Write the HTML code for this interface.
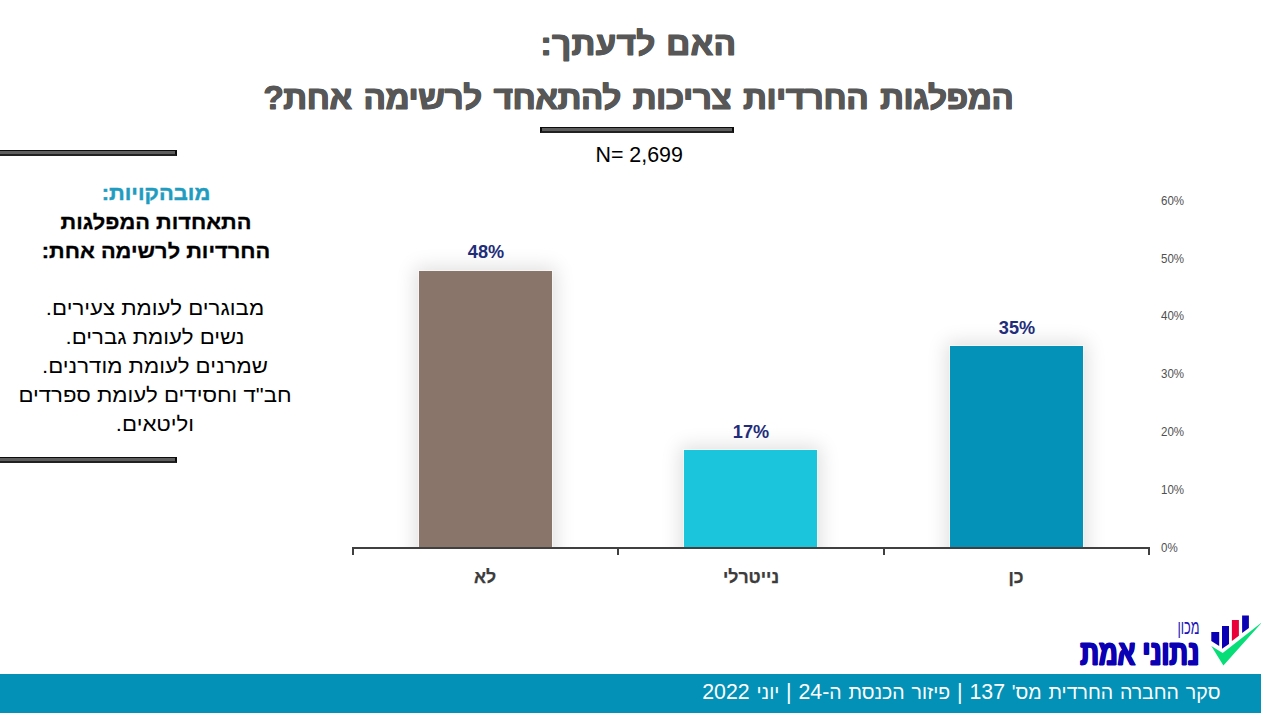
<!DOCTYPE html>
<html lang="he">
<head>
<meta charset="utf-8">
<title>האם לדעתך: המפלגות החרדיות צריכות להתאחד לרשימה אחת?</title>
<style>
  html, body { margin: 0; padding: 0; }
  body {
    width: 1261px; height: 713px; position: relative; overflow: hidden;
    background: #ffffff;
    font-family: "Liberation Sans", "DejaVu Sans", sans-serif;
    color: #404040;
  }
  .abs { position: absolute; white-space: nowrap; }
  .c { transform: translateX(-50%); text-align: center; }

  /* title */
  .t1, .t2 {
    font-weight: bold; color: #575757; font-size: 33px; line-height: 40px;
    direction: rtl; -webkit-text-stroke: 0.9px #575757; letter-spacing: -0.5px; text-shadow: 0.6px 0 0 #575757, -0.6px 0 0 #575757;
  }
  .t1 { left: 638.5px; top: 24px; letter-spacing: 0.5px; word-spacing: 1px; }
  .t2 { left: 638.5px; top: 77.5px; letter-spacing: -0.3px; word-spacing: 3px; }
  .rule {
    position: absolute; background: #5e5e5e; border-style: solid; border-color: #0c0c0c #0c0c0c #222 #0c0c0c; border-width: 1px 2px 2px 2px; box-sizing: border-box;
  }
  .n { left: 639.2px; top: 142.8px; font-size: 21.4px; line-height: 24px; color: #000; }

  /* side box */
  .side { direction: rtl; }
  .s-h { color: #1f9cc0; font-weight: bold; font-size: 20.6px; line-height: 24px; transform: translateX(-50%) scaleX(1.065); -webkit-text-stroke: 0.4px #1f9cc0; }
  .s-b { color: #000; font-weight: bold; font-size: 20.6px; line-height: 24px; transform: translateX(-50%) scaleX(1.058); -webkit-text-stroke: 0.3px #000; }
  .s-t { color: #000; font-size: 20.6px; line-height: 24px; transform: translateX(-50%) scaleX(1.078); }

  /* chart */
  .bar { position: absolute; box-shadow: 0 0 18px 4px rgba(0,0,0,0.125); outline: 1px solid rgba(255,255,255,0.45); }
  .val { font-weight: bold; color: #1f2d7a; font-size: 19px; line-height: 20px; transform: translateX(-50%) scaleX(0.955); }
  .cat { font-weight: bold; color: #3c3c3c; font-size: 17.7px; line-height: 20px; direction: rtl; -webkit-text-stroke: 0.25px #3c3c3c; }
  .yl { font-size: 12.4px; line-height: 14px; color: #505050; left: 1160.5px; transform: scaleX(0.93); transform-origin: 0 50%; }
  .axis { position: absolute; background: #404040; }

  /* footer */
  .footer { position: absolute; left: 0; top: 674px; width: 1261px; height: 39px; background: #0391b7; }
  .ft { right: 40.5px; top: 679.5px; color: #fff; font-size: 19.5px; line-height: 24px; direction: rtl; word-spacing: 1.4px; }
  .ft .d { font-size: 21.3px; }
</style>
</head>
<body>

<div class="abs c t1">האם לדעתך:</div>
<div class="abs c t2">המפלגות החרדיות צריכות להתאחד לרשימה אחת?</div>
<div class="rule" style="left:540px; top:127px; width:194px; height:6px;"></div>
<div class="abs c n">N= 2,699</div>

<div class="rule" style="left:-2px; top:150px; width:179px; height:6px;"></div>
<div class="rule" style="left:-2px; top:457px; width:179px; height:6px;"></div>

<div class="abs c side s-h" style="left:155.5px; top:181px;">מובהקויות:</div>
<div class="abs c side s-b" style="left:156px; top:210px;">התאחדות המפלגות</div>
<div class="abs c side s-b" style="left:156px; top:238.5px;">החרדיות לרשימה אחת:</div>
<div class="abs c side s-t" style="left:155px; top:296px;">מבוגרים לעומת צעירים.</div>
<div class="abs c side s-t" style="left:155px; top:325px;">נשים לעומת גברים.</div>
<div class="abs c side s-t" style="left:155px; top:354px;">שמרנים לעומת מודרנים.</div>
<div class="abs c side s-t" style="left:155px; top:383px;">חב"ד וחסידים לעומת ספרדים</div>
<div class="abs c side s-t" style="left:155px; top:412px;">וליטאים.</div>

<!-- chart -->
<div style="position:absolute; left:340px; top:170px; width:830px; height:378px; overflow:hidden;">
  <div class="bar" style="left:79px; top:101px; width:133px; height:337px; background:#8a756a;"></div>
  <div class="bar" style="left:344px; top:280px; width:133px; height:158px; background:#1bc5db;"></div>
  <div class="bar" style="left:610px; top:176px; width:133px; height:262px; background:#0492b8;"></div>
</div>
<div class="axis" style="left:352px; top:547px; width:798px; height:2px;"></div>
<div class="axis" style="left:352px; top:547px; width:2px; height:8px;"></div>
<div class="axis" style="left:617px; top:547px; width:2px; height:8px;"></div>
<div class="axis" style="left:883px; top:547px; width:2px; height:8px;"></div>
<div class="axis" style="left:1148px; top:547px; width:2px; height:8px;"></div>

<div class="abs c val" style="left:485.5px; top:242.2px;">48%</div>
<div class="abs c val" style="left:751px; top:421.7px;">17%</div>
<div class="abs c val" style="left:1016.5px; top:317.7px;">35%</div>

<div class="abs c cat" style="left:485px; top:566.6px;">לא</div>
<div class="abs c cat" style="left:751px; top:566.6px;">נייטרלי</div>
<div class="abs c cat" style="left:1016px; top:566.6px;">כן</div>

<div class="abs yl" style="top:193.70px;">60%</div>
<div class="abs yl" style="top:251.55px;">50%</div>
<div class="abs yl" style="top:309.40px;">40%</div>
<div class="abs yl" style="top:367.25px;">30%</div>
<div class="abs yl" style="top:425.10px;">20%</div>
<div class="abs yl" style="top:482.95px;">10%</div>
<div class="abs yl" style="top:540.80px;">0%</div>

<!-- logo -->
<svg class="abs" style="left:1200px; top:608px;" width="61" height="66" viewBox="0 0 61 66">
  <polygon points="11.3,24.1 19.2,24.1 19.2,38 11.3,32.9" fill="#0b00b4"/>
  <polygon points="22,17.9 29,17.9 29,35.9 22,40.8" fill="#0b00b4"/>
  <polygon points="31.9,12 38.9,12 38.9,27.8 31.9,33.1" fill="#ea0038"/>
  <polygon points="42.1,7.4 48.9,7.4 48.9,19.9 42.1,25" fill="#0b00b4"/>
  <polygon points="11.3,38.1 22.7,45.1 62,14.3 23.4,57.4" fill="#07de78"/>
</svg>
<div class="abs" style="right:61.5px; top:615px; color:#1d14ba; font-size:20px; line-height:24px; direction:rtl; transform:scaleX(0.64); transform-origin:100% 50%;">מכון</div>
<div class="abs" style="right:62px; top:633px; color:#0b00b4; font-weight:bold; font-size:36px; line-height:40px; direction:rtl; -webkit-text-stroke:1px #0b00b4; text-shadow:1.3px 0 0 #0b00b4, -1.3px 0 0 #0b00b4; transform:scaleX(0.72); transform-origin:100% 50%;">נתוני אמת</div>

<div class="footer"></div>
<div class="abs ft">סקר החברה החרדית מס' <span class="d">137</span> <span class="d">|</span> פיזור הכנסת ה<span class="d">-24</span> <span class="d">|</span> יוני <span class="d">2022</span></div>

</body>
</html>
